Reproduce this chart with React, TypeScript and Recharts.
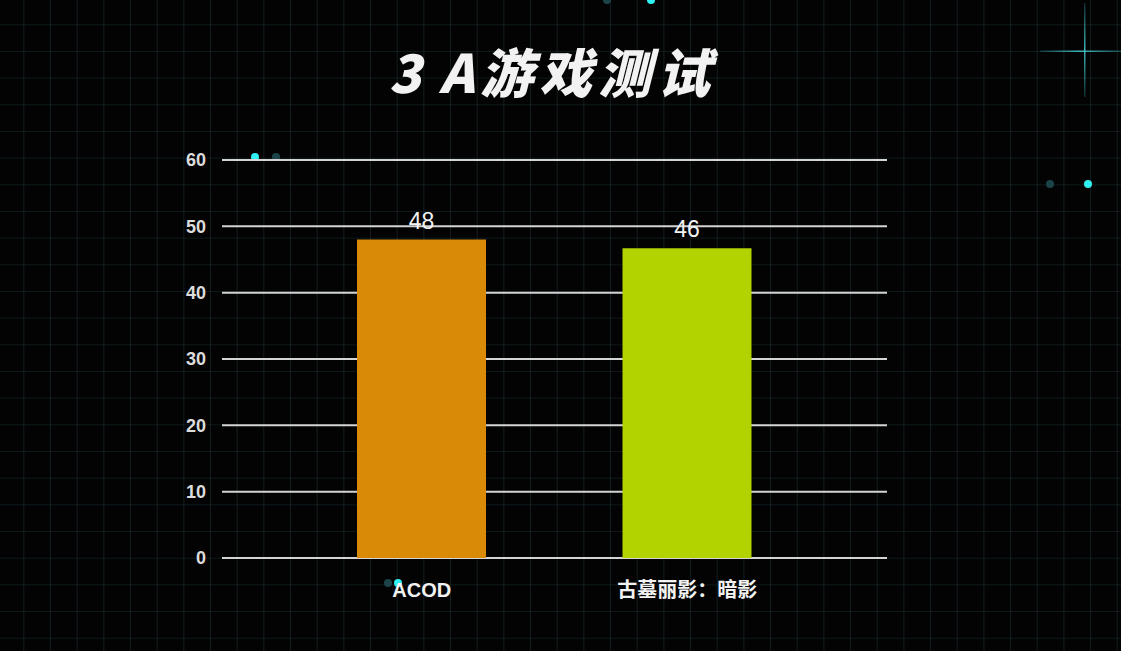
import React from "react";
import { Bar, BarChart, CartesianGrid, Cell, LabelList, XAxis, YAxis } from "recharts";

const games = ["ACOD", "古墓丽影：暗影"];
const fps = [48, 46.7];
const fpsLabels = ["48", "46"];
const barColors = ["#D98A06", "#B3D300"];
const yTicks = [0, 10, 20, 30, 40, 50, 60];

const data = games.map((name, i) => ({ name, fps: fps[i], label: fpsLabels[i] }));

const W = 1121;
const H = 651;

const dots = [
  { x: 255, y: 157, bright: true },
  { x: 276, y: 157, bright: false },
  { x: 1088, y: 184, bright: true },
  { x: 1050, y: 184, bright: false },
  { x: 398, y: 583, bright: true },
  { x: 388, y: 583, bright: false },
  { x: 651, y: 0, bright: true },
  { x: 607, y: 0, bright: false },
];

function Backdrop() {
  return (
    <svg width={W} height={H} style={{ position: "absolute", left: 0, top: 0 }}>
      <defs>
        <pattern id="bgGrid" x={23.3} y={24.3} width={26.67} height={26.67} patternUnits="userSpaceOnUse">
          <path d="M 0 0 L 26.67 0 M 0 0 L 0 26.67" stroke="#1a2d2f" strokeWidth={1.2} fill="none" />
        </pattern>
        <linearGradient id="crossV" x1="0" y1="0" x2="0" y2="1">
          <stop offset="0%" stopColor="#3fc8cc" stopOpacity={0.2} />
          <stop offset="50%" stopColor="#3fc8cc" stopOpacity={0.9} />
          <stop offset="100%" stopColor="#3fc8cc" stopOpacity={0.2} />
        </linearGradient>
        <linearGradient id="crossH" x1="0" y1="0" x2="1" y2="0">
          <stop offset="0%" stopColor="#3fc8cc" stopOpacity={0.2} />
          <stop offset="50%" stopColor="#3fc8cc" stopOpacity={0.9} />
          <stop offset="100%" stopColor="#3fc8cc" stopOpacity={0.3} />
        </linearGradient>
      </defs>
      <rect width={W} height={H} fill="#030304" />
      <rect width={W} height={H} fill="url(#bgGrid)" />
      <rect x={1084} y={3} width={1.5} height={94} fill="url(#crossV)" />
      <rect x={1040} y={50.5} width={81} height={1.5} fill="url(#crossH)" />
      {dots.map((d, i) => (
        <circle key={i} cx={d.x} cy={d.y} r={4} fill={d.bright ? "#2ef2f5" : "#1c4448"} />
      ))}
    </svg>
  );
}

export default function App() {
  return (
    <div style={{ position: "absolute", left: 0, top: 0, width: W, height: H, overflow: "hidden", background: "#030304" }}>
      <Backdrop />
      <div
        style={{
          position: "absolute",
          left: -8,
          top: 34,
          width: W,
          textAlign: "center",
          color: "#f2f2f2",
          fontFamily: "'Noto Sans CJK SC', sans-serif",
          fontWeight: 900,
          fontStyle: "italic",
          fontSize: 53,
          letterSpacing: 6,
          lineHeight: "72px",
        }}
      >
        <span style={{ letterSpacing: 18 }}>3</span>A游戏测试
      </div>
      <div style={{ position: "absolute", left: 0, top: 0 }}>
        <BarChart width={W} height={H} data={data} margin={{ top: 160, right: 234, bottom: 63, left: 162 }}>
          <CartesianGrid vertical={false} stroke="#d4d4d4" strokeWidth={2} />
          <XAxis
            dataKey="name"
            axisLine={false}
            tickLine={false}
            padding={{ left: 67, right: 67 }}
            height={30}
            tickMargin={19}
            tick={{ fill: "#f2f2f2", fontSize: 20, fontWeight: 700, fontFamily: "'Liberation Sans', 'Noto Sans CJK SC', sans-serif" }}
          />
          <YAxis
            domain={[0, 60]}
            ticks={yTicks}
            axisLine={false}
            tickLine={false}
            width={60}
            tickMargin={10}
            tick={{ fill: "#dcdcdc", fontSize: 18, fontWeight: 700, fontFamily: "'Liberation Sans', sans-serif" }}
          />
          <Bar dataKey="fps" barSize={129} isAnimationActive={false}>
            {data.map((d, i) => (
              <Cell key={d.name} fill={barColors[i]} />
            ))}
            <LabelList
              dataKey="label"
              position="top"
              offset={11}
              fill="#f2f2f2"
              fontSize={23}
              fontFamily="'Liberation Sans', sans-serif"
            />
          </Bar>
        </BarChart>
      </div>
    </div>
  );
}
